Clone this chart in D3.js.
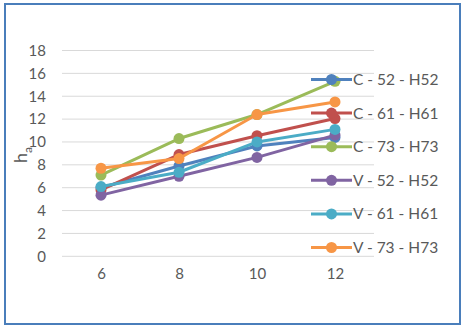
<!DOCTYPE html>
<html>
<head>
<meta charset="utf-8">
<script src="https://cdn.jsdelivr.net/npm/d3@7"></script>
<style>
  body { margin: 0; background: #fff; }
  text { font-family: Lato, "Open Sans", sans-serif; fill: #595959; }
</style>
</head>
<body>
<svg width="465" height="328"></svg>
<script>
// chart data
var categories = [6, 8, 10, 12];
var seriesNames = ["C - 52 - H52", "C - 61 - H61", "C - 73 - H73", "V - 52 - H52", "V - 61 - H61", "V - 73 - H73"];
var c52 = [6.0, 7.9, 9.65, 10.4];
var c61 = [5.8, 8.9, 10.55, 12.05];
var c73 = [7.1, 10.3, 12.4, 15.3];
var v52 = [5.35, 7.0, 8.65, 10.6];
var v61 = [6.1, 7.35, 10.0, 11.1];
var v73 = [7.7, 8.55, 12.4, 13.5];
var yTicks = [0, 2, 4, 6, 8, 10, 12, 14, 16, 18];
var colors = ["#4F81BD", "#C0504D", "#9BBB59", "#8064A2", "#4BACC6", "#F79646"];

var allSeries = [c52, c61, c73, v52, v61, v73];

var svg = d3.select("svg");

// outer frame
svg.append("rect")
    .attr("x", 5).attr("y", 4)
    .attr("width", 455).attr("height", 320)
    .attr("fill", "none")
    .attr("stroke", "#4a7ebb")
    .attr("stroke-width", 2);

var xScale = d3.scalePoint()
    .domain(categories)
    .range([101, 335]);

var yScale = d3.scaleLinear()
    .domain([0, 18])
    .range([256.3, 50.5]);

// gridlines
svg.append("g").selectAll("line")
  .data(yTicks)
  .join("line")
    .attr("x1", 62).attr("x2", 374)
    .attr("y1", d => yScale(d)).attr("y2", d => yScale(d))
    .attr("stroke", "#d9d9d9")
    .attr("stroke-width", 1);

// y axis labels
var yAxis = d3.axisLeft(yScale).tickValues(yTicks).tickSize(0).tickPadding(0);
svg.append("g")
    .attr("transform", "translate(46,0)")
    .call(yAxis)
    .call(g => g.select(".domain").remove())
    .selectAll("text")
      .style("font-size", "15px")
      .attr("fill", "#595959");

// x axis labels
var xAxis = d3.axisBottom(xScale).tickSize(0).tickPadding(0);
svg.append("g")
    .attr("transform", "translate(0,268)")
    .call(xAxis)
    .call(g => g.select(".domain").remove())
    .selectAll("text")
      .style("font-size", "15px")
      .attr("fill", "#595959");

// y axis title
var yt = svg.append("text")
    .attr("transform", "translate(27,163) rotate(-90)")
    .style("font-size", "18px");
yt.append("tspan").text("h");
yt.append("tspan").attr("dy", 5).style("font-size", "12px").text("a");

// lines
var line = d3.line()
    .x((d, i) => xScale(categories[i]))
    .y(d => yScale(d));

allSeries.forEach(function(s, k){
  var g = svg.append("g");
  g.append("path")
    .datum(s)
    .attr("d", line)
    .attr("fill", "none")
    .attr("stroke", colors[k])
    .attr("stroke-width", 3)
    .attr("stroke-linejoin", "round");
  g.selectAll("circle")
    .data(s)
    .join("circle")
      .attr("cx", (d, i) => xScale(categories[i]))
      .attr("cy", d => yScale(d))
      .attr("r", 5.5)
      .attr("fill", colors[k]);
});

// legend
var legend = svg.append("g").selectAll("g")
  .data(seriesNames)
  .join("g")
    .attr("transform", (d, i) => "translate(311," + (79.5 + i * 33.6) + ")");
legend.append("line")
    .attr("x1", 0).attr("x2", 41)
    .attr("stroke", (d, i) => colors[i])
    .attr("stroke-width", 3);
legend.append("circle")
    .attr("cx", 20.5).attr("r", 5.5)
    .attr("fill", (d, i) => colors[i]);
legend.append("text")
    .attr("x", 42).attr("dy", "0.35em")
    .style("font-size", "15.5px")
    .text(d => d);
</script>
</body>
</html>
